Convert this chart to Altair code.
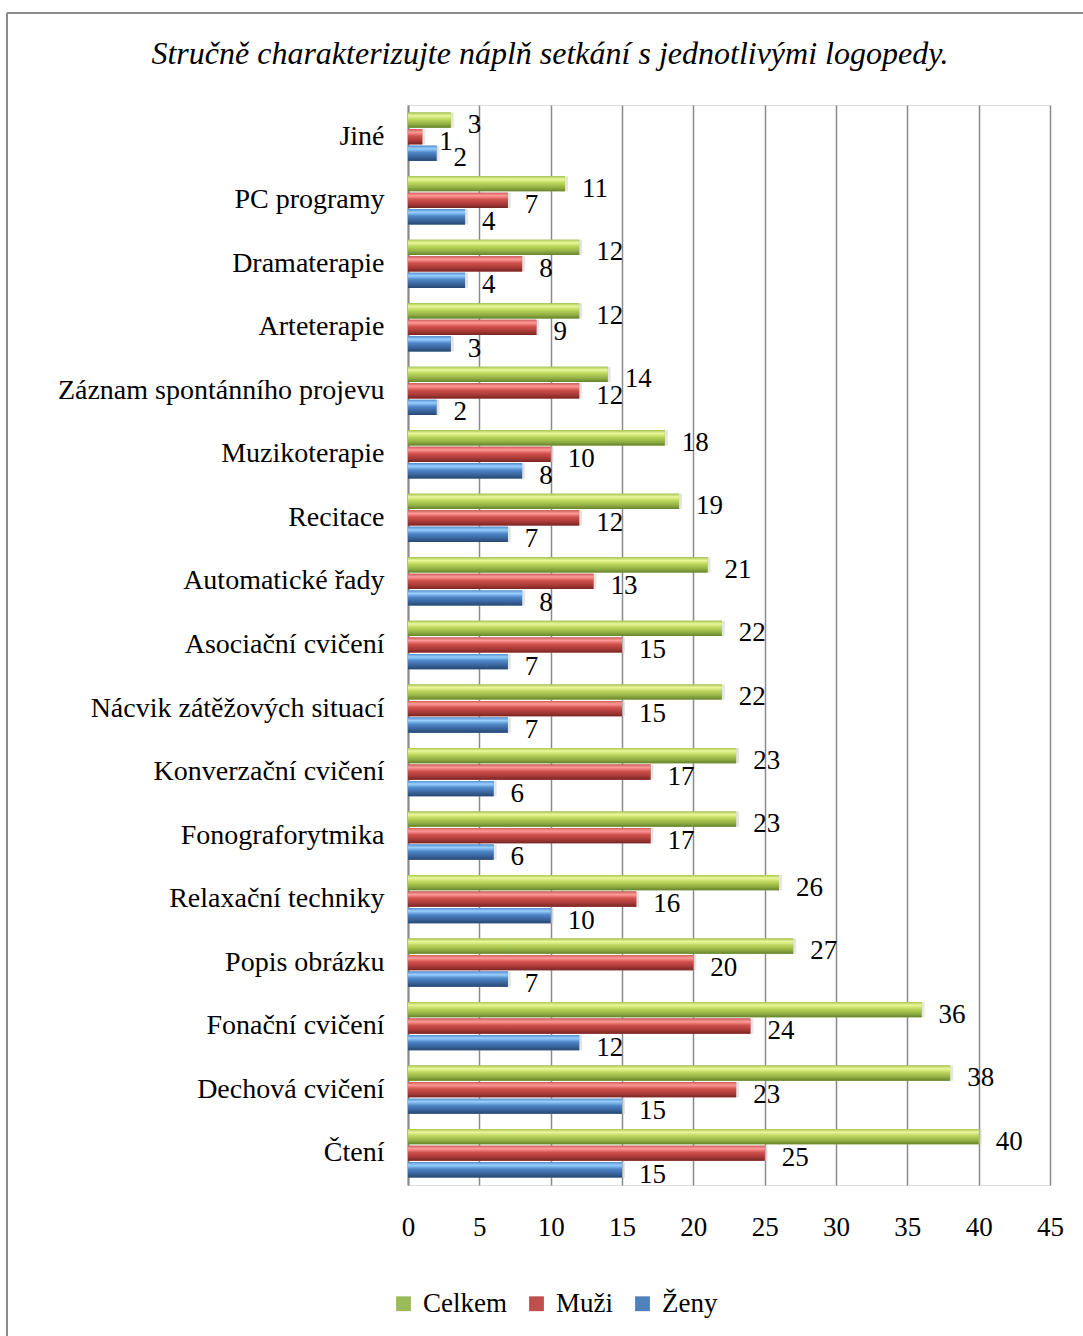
import altair as alt
import pandas as pd

# Survey answers: activities during sessions with speech therapists
categories = [
    "Jiné", "PC programy", "Dramaterapie", "Arteterapie",
    "Záznam spontánního projevu", "Muzikoterapie", "Recitace",
    "Automatické řady", "Asociační cvičení", "Nácvik zátěžových situací",
    "Konverzační cvičení", "Fonograforytmika", "Relaxační techniky",
    "Popis obrázku", "Fonační cvičení", "Dechová cvičení", "Čtení",
]
celkem = [3, 11, 12, 12, 14, 18, 19, 21, 22, 22, 23, 23, 26, 27, 36, 38, 40]
muzi = [1, 7, 8, 9, 12, 10, 12, 13, 15, 15, 17, 17, 16, 20, 24, 23, 25]
zeny = [2, 4, 4, 3, 2, 8, 7, 8, 7, 7, 6, 6, 10, 7, 12, 15, 15]
series = ["Celkem", "Muži", "Ženy"]
x_ticks = [0, 5, 10, 15, 20, 25, 30, 35, 40, 45]
title_text = "Stručně charakterizujte náplň setkání s jednotlivými logopedy."

values = {"Celkem": celkem, "Muži": muzi, "Ženy": zeny}
rows = []
for name in series:
    for cat, v in zip(categories, values[name]):
        rows.append({"kategorie": cat, "skupina": name, "pocet": v})
df = pd.DataFrame(rows)

FONT = "Liberation Serif"
solid = ["#9bbb59", "#c0504d", "#4f81bd"]
gradients = {
    "Celkem": ["#a9c552", "#eaf79a", "#bcd65c", "#93b044", "#66832d"],
    "Muži": ["#cc5f5c", "#ff9a97", "#d0504d", "#a83a37", "#772624"],
    "Ženy": ["#5590d0", "#98cfff", "#4f86c6", "#38649c", "#284870"],
}
offsets = [0.0, 0.2, 0.45, 0.75, 1.0]

W, H = 642, 1080

y_enc = alt.Y(
    "kategorie:N",
    sort=categories,
    scale=alt.Scale(paddingInner=0.24, paddingOuter=0.12),
    axis=alt.Axis(
        title=None, ticks=False, domain=True, domainColor="#8a8a8a",
        domainWidth=2, labelFont=FONT, labelFontSize=28, labelColor="black",
        labelPadding=24, labelLimit=400,
    ),
)
yoff_enc = alt.YOffset(
    "skupina:N", sort=series,
    scale=alt.Scale(domain=series, paddingInner=0.08),
)
x_enc = alt.X(
    "pocet:Q",
    scale=alt.Scale(domain=[0, 45], nice=False),
    axis=alt.Axis(
        title=None, values=x_ticks, ticks=False, domain=False,
        grid=True, gridColor="#8a8a8a", gridWidth=1.5,
        labelFont=FONT, labelFontSize=27, labelColor="black",
        labelPadding=29, labelFlush=False,
    ),
)

base = alt.Chart(df)

shadow = base.mark_bar(color="#cfcfcf", opacity=0.55, xOffset=3, yOffset=4).encode(
    x=x_enc, y=y_enc, yOffset=yoff_enc
)

colored = base.mark_bar().encode(
    x=x_enc, y=y_enc, yOffset=yoff_enc,
    color=alt.Color(
        "skupina:N",
        scale=alt.Scale(domain=series, range=solid),
        legend=alt.Legend(
            title=None, orient="none", direction="horizontal",
            legendX=-18, legendY=1185, symbolType="square", symbolSize=220,
            symbolStrokeWidth=0, labelFont=FONT, labelFontSize=27,
            labelColor="black", columnPadding=16, labelOffset=6,
        ),
    ),
)

shaded = []
for name in series:
    grad = alt.LinearGradient(
        gradient="linear", x1=0, y1=0, x2=0, y2=1,
        stops=[alt.GradientStop(offset=o, color=c)
               for o, c in zip(offsets, gradients[name])],
    )
    shaded.append(
        base.transform_filter(alt.datum.skupina == name)
        .mark_bar(fill=grad)
        .encode(x=x_enc, y=y_enc, yOffset=yoff_enc)
    )

labels = base.mark_text(
    align="left", baseline="middle", dx=17, dy=5,
    font=FONT, fontSize=27, color="black",
).encode(x=x_enc, y=y_enc, yOffset=yoff_enc, text="pocet:Q")

# chart heading and outer frame
single = alt.Chart(pd.DataFrame({"a": [0]}))
heading = single.mark_text(
    text=title_text, font=FONT, fontStyle="italic", fontSize=32,
    color="black", align="center", baseline="alphabetic",
).encode(x=alt.value(142), y=alt.value(-41))
frame_top = single.mark_rule(color="#8a8a8a", strokeWidth=2).encode(
    x=alt.value(-401), x2=alt.value(700), y=alt.value(-92)
)
frame_left = single.mark_rule(color="#8a8a8a", strokeWidth=2).encode(
    x=alt.value(-401), y=alt.value(-92), y2=alt.value(1300)
)

chart = alt.layer(
    shadow, colored, *shaded, labels, heading, frame_top, frame_left
).properties(
    width=W, height=H,
    autosize=alt.AutoSizeParams(type="none"),
    padding={"left": 408, "top": 105, "right": 33, "bottom": 151},
).configure_view(stroke=None).configure(background="white")

chart.save("out.html", embed_options={"renderer": "svg", "actions": False})
